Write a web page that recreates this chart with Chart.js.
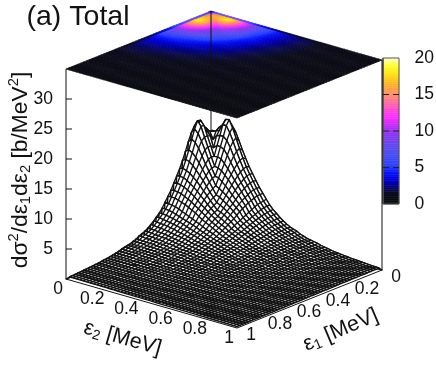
<!DOCTYPE html>
<html><head><meta charset="utf-8">
<style>html,body{margin:0;padding:0;background:#fff}canvas{display:block}</style>
<script src="https://cdn.jsdelivr.net/npm/chart.js@4"></script>
</head><body><canvas id="c" width="436" height="365"></canvas>
<script>
// Cross section (b/MeV^2), row i = eps1 index, col j = eps2 index (j<=i), step 0.02 MeV; the surface is symmetric
const crossSection = [
[0],
[0,11],
[0,13,15.8],
[0,14.5,15.8,16],
[0,15.5,16.6,16.2,15],
[0,16.3,17.2,16.5,15.8,14],
[0,17,18.3,17.6,16,14.5,12.9],
[0,17.3,18.4,17.6,16,14.5,13,11.6],
[0,16.4,17.2,16.6,15.5,14.2,12.8,11.5,10.3],
[0,15.1,15.7,15.3,14.5,13.4,12.2,11.2,10.2,9.1],
[0,13.7,14.1,13.8,13.2,12.4,11.5,10.6,9.7,8.8,7.9],
[0,12.4,12.7,12.5,12,11.4,10.7,10,9.2,8.4,7.7,7],
[0,11.2,11.4,11.2,10.9,10.4,9.9,9.3,8.6,8,7.3,6.7,6.1],
[0,10.2,10.3,10.2,9.9,9.5,9.1,8.6,8,7.5,6.9,6.4,5.9,5.4],
[0,9.2,9.3,9.2,9,8.7,8.3,7.9,7.4,6.9,6.5,6,5.6,5.2,4.8],
[0,8.2,8.3,8.2,8.1,7.8,7.5,7.2,6.8,6.4,6,5.6,5.2,4.8,4.5,4.2],
[0,7.4,7.4,7.4,7.2,7,6.8,6.5,6.2,5.9,5.5,5.1,4.8,4.5,4.2,3.9,3.6],
[0,6.6,6.5,6.4,6.3,6.1,5.8,5.6,5.3,5.1,4.8,4.6,4.3,4,3.8,3.6,3.3,3.1],
[0,5.8,5.8,5.7,5.6,5.4,5.2,5,4.8,4.6,4.4,4.2,3.9,3.7,3.5,3.3,3.1,2.9,2.8],
[0,5.2,5.2,5.1,5,4.9,4.7,4.6,4.4,4.2,4,3.8,3.6,3.5,3.3,3.1,2.9,2.8,2.6,2.5],
[0,4.7,4.7,4.6,4.5,4.4,4.3,4.2,4,3.9,3.7,3.5,3.4,3.2,3,2.9,2.7,2.6,2.5,2.3,2.2],
[0,4.2,4.2,4.1,4.1,4,3.9,3.8,3.6,3.5,3.4,3.2,3.1,2.9,2.8,2.7,2.6,2.4,2.3,2.2,2.1,2],
[0,3.8,3.8,3.7,3.7,3.6,3.5,3.4,3.3,3.2,3.1,3,2.9,2.7,2.6,2.5,2.4,2.3,2.2,2.1,2,1.9,1.8],
[0,3.4,3.4,3.4,3.3,3.3,3.2,3.1,3,2.9,2.8,2.7,2.6,2.5,2.4,2.3,2.2,2.1,2,1.9,1.8,1.8,1.7,1.6],
[0,3.1,3.1,3.1,3,3,2.9,2.9,2.8,2.7,2.6,2.5,2.4,2.3,2.2,2.1,2.1,2,1.9,1.8,1.7,1.7,1.6,1.5,1.5],
[0,2.9,2.9,2.8,2.8,2.7,2.7,2.6,2.5,2.5,2.4,2.3,2.2,2.1,2.1,2,1.9,1.8,1.8,1.7,1.6,1.6,1.5,1.4,1.4,1.3],
[0,2.7,2.7,2.6,2.6,2.5,2.5,2.4,2.4,2.3,2.2,2.1,2.1,2,1.9,1.9,1.8,1.7,1.7,1.6,1.5,1.5,1.4,1.4,1.3,1.3,1.2],
[0,2.4,2.4,2.4,2.3,2.3,2.3,2.2,2.2,2.1,2.1,2,1.9,1.9,1.8,1.8,1.7,1.6,1.6,1.5,1.5,1.4,1.4,1.3,1.3,1.2,1.2,1.1],
[0,2.2,2.2,2.2,2.2,2.1,2.1,2.1,2,2,1.9,1.9,1.8,1.8,1.7,1.7,1.6,1.5,1.5,1.4,1.4,1.3,1.3,1.2,1.2,1.2,1.1,1.1,1],
[0,2,2,2,2,2,1.9,1.9,1.9,1.8,1.8,1.7,1.7,1.6,1.6,1.6,1.5,1.5,1.4,1.4,1.3,1.3,1.2,1.2,1.1,1.1,1.1,1,1,.95],
[0,1.9,1.9,1.9,1.9,1.8,1.8,1.8,1.7,1.7,1.7,1.6,1.6,1.5,1.5,1.5,1.4,1.4,1.3,1.3,1.2,1.2,1.2,1.1,1.1,1.1,1,1,.97,.94,.9],
[0,1.8,1.8,1.8,1.7,1.7,1.7,1.7,1.6,1.6,1.6,1.5,1.5,1.5,1.4,1.4,1.3,1.3,1.3,1.2,1.2,1.1,1.1,1.1,1,1,.98,.95,.92,.89,.86,.83],
[0,1.7,1.6,1.6,1.6,1.6,1.6,1.5,1.5,1.5,1.5,1.4,1.4,1.4,1.3,1.3,1.3,1.2,1.2,1.1,1.1,1.1,1,1,.98,.95,.92,.89,.86,.83,.8,.78,.75],
[0,1.5,1.5,1.5,1.5,1.5,1.5,1.4,1.4,1.4,1.4,1.3,1.3,1.3,1.2,1.2,1.2,1.1,1.1,1.1,1,1,.98,.95,.92,.89,.86,.83,.81,.78,.75,.73,.71,.69],
[0,1.4,1.4,1.4,1.4,1.4,1.4,1.3,1.3,1.3,1.3,1.2,1.2,1.2,1.2,1.1,1.1,1.1,1,1,.98,.95,.92,.89,.87,.84,.81,.79,.77,.74,.72,.7,.68,.66,.64],
[0,1.3,1.3,1.3,1.3,1.3,1.3,1.2,1.2,1.2,1.2,1.2,1.1,1.1,1.1,1.1,1,1,.98,.95,.93,.9,.87,.85,.82,.8,.78,.76,.73,.71,.69,.67,.65,.63,.62,.6],
[0,1.2,1.2,1.2,1.2,1.2,1.2,1.2,1.1,1.1,1.1,1.1,1.1,1,1,1,.98,.95,.92,.9,.88,.85,.83,.81,.78,.76,.74,.72,.7,.68,.66,.64,.62,.61,.59,.57,.56],
[0,1.1,1.1,1.1,1.1,1.1,1.1,1.1,1.1,1.1,1,1,1,1,.98,.95,.92,.9,.88,.85,.83,.81,.79,.77,.75,.73,.71,.69,.67,.65,.63,.61,.6,.58,.57,.55,.54,.52],
[0,1.06,1.06,1.05,1.05,1.04,1.03,1.02,1,.99,.97,.95,.93,.91,.89,.87,.85,.83,.81,.79,.77,.75,.73,.71,.69,.67,.65,.63,.62,.6,.58,.57,.55,.54,.52,.51,.5,.49,.47],
[0,.98,.98,.97,.97,.96,.95,.94,.93,.92,.9,.88,.87,.85,.83,.81,.79,.77,.75,.74,.72,.7,.68,.67,.65,.63,.62,.6,.58,.57,.55,.54,.52,.51,.5,.48,.47,.46,.45,.43],
[0,.9,.9,.9,.89,.89,.88,.87,.86,.85,.84,.82,.81,.79,.78,.76,.74,.73,.71,.69,.68,.66,.64,.63,.61,.6,.58,.57,.55,.54,.52,.51,.5,.48,.47,.46,.45,.44,.42,.41,.4],
[0,.85,.85,.85,.84,.84,.83,.82,.81,.8,.79,.78,.76,.75,.73,.72,.7,.69,.67,.66,.64,.63,.61,.6,.58,.57,.55,.54,.53,.51,.5,.49,.48,.46,.45,.44,.43,.42,.41,.4,.39,.38],
[0,.8,.8,.8,.79,.79,.78,.78,.77,.76,.75,.74,.72,.71,.7,.68,.67,.66,.64,.63,.61,.6,.58,.57,.56,.54,.53,.52,.51,.49,.48,.47,.46,.45,.44,.43,.42,.41,.4,.39,.38,.37,.36],
[0,.76,.76,.76,.75,.75,.74,.74,.73,.72,.71,.7,.69,.68,.66,.65,.64,.63,.61,.6,.59,.57,.56,.55,.54,.52,.51,.5,.49,.48,.47,.46,.45,.44,.43,.42,.41,.4,.39,.38,.37,.36,.35,.34],
[0,.72,.72,.72,.71,.71,.7,.7,.69,.68,.67,.66,.65,.64,.63,.62,.61,.6,.59,.57,.56,.55,.54,.53,.52,.5,.49,.48,.47,.46,.45,.44,.43,.42,.41,.4,.39,.38,.38,.37,.36,.35,.34,.33,.32],
[0,.68,.68,.68,.67,.67,.66,.66,.65,.65,.64,.63,.62,.61,.6,.59,.58,.57,.56,.55,.53,.52,.51,.5,.49,.48,.47,.46,.45,.44,.43,.43,.42,.41,.4,.39,.38,.37,.37,.36,.35,.34,.33,.33,.32,.31],
[0,.64,.64,.64,.63,.63,.63,.62,.62,.61,.6,.6,.59,.58,.57,.56,.55,.54,.53,.52,.51,.5,.49,.48,.47,.46,.45,.44,.43,.42,.42,.41,.4,.39,.38,.38,.37,.36,.35,.35,.34,.33,.33,.32,.31,.31,.3],
[0,.6,.6,.6,.6,.59,.59,.59,.58,.58,.57,.56,.56,.55,.54,.53,.52,.51,.5,.49,.48,.47,.47,.46,.45,.44,.43,.42,.41,.41,.4,.39,.38,.38,.37,.36,.35,.35,.34,.33,.33,.32,.31,.31,.3,.3,.29,.28],
[0,.56,.56,.56,.56,.56,.55,.55,.55,.54,.54,.53,.52,.52,.51,.5,.49,.48,.48,.47,.46,.45,.44,.43,.43,.42,.41,.4,.39,.39,.38,.37,.37,.36,.35,.35,.34,.33,.33,.32,.31,.31,.3,.3,.29,.28,.28,.27,.27],
[0,.53,.53,.53,.53,.53,.52,.52,.52,.51,.51,.5,.5,.49,.48,.48,.47,.46,.45,.45,.44,.43,.42,.41,.41,.4,.39,.39,.38,.37,.36,.36,.35,.34,.34,.33,.33,.32,.31,.31,.3,.3,.29,.29,.28,.28,.27,.26,.26,.25],
[0,.5,.5,.5,.5,.5,.49,.49,.49,.48,.48,.47,.47,.46,.46,.45,.44,.44,.43,.42,.42,.41,.4,.39,.39,.38,.37,.37,.36,.35,.35,.34,.33,.33,.32,.32,.31,.3,.3,.29,.29,.28,.28,.27,.27,.26,.26,.25,.25,.24,.24]
];
const gridStep = 0.02;
const zTicks = [5,10,15,20,25,30];
const colorTicks = [0,5,10,15,20];
const eps1Ticks = [0,0.2,0.4,0.6,0.8,1];
const eps2Ticks = [0,0.2,0.4,0.6,0.8,1];
const paletteValues = [0,1.4,2,2.6,3.4,4.4,5.2,7,9,10,11,12,13,14,15,16,17,18,19,20];
const paletteColors = ['#0c0c10','#0c0c1c','#0a0a50','#000090','#0000d8','#0818ff','#2840ff','#5050f0','#7a40ee','#9a30f2','#d030f8','#ff30ff','#ff50d0','#ff70a0','#ff8c6c','#ffa838','#ffc820','#ffe818','#ffff30','#ffffd0'];

// view set-up
const W=436,H=365,ZERO_PX=279,UNIT=6,CB_ZERO=204,CB_UNIT=7.3,ZTOP=35,MESH=1.35;
const INK='#111',FONT='"Liberation Sans", Arial, sans-serif';
const Z=(i,j)=> i>=j ? crossSection[i][j] : crossSection[j][i];
const N=crossSection.length;
// projected position: x in the px-like x scale, y in units of the z axis
const proj=(e1,e2,z)=>({x:211-145*e1+171*e2, y:z+(58-58*e1-49*e2)/UNIT});
const pt=(i,j)=>proj(i*gridStep,j*gridStep,Z(i,j));

const hex=c=>[1,3,5].map(k=>parseInt(c.substr(k,2),16));
function colorOf(v){
  let k=0; while(k<paletteValues.length-2 && v>paletteValues[k+1]) k++;
  const t=Math.max(0,Math.min(1,(v-paletteValues[k])/(paletteValues[k+1]-paletteValues[k])));
  const a=hex(paletteColors[k]),b=hex(paletteColors[k+1]);
  return `rgb(${a.map((q,m)=>Math.round(q+(b[m]-q)*t)).join(',')})`;
}
const ds=[];
const line=(data,o={})=>ds.push(Object.assign({type:'line',data,yAxisID:'yZ',xAxisID:'x',pointRadius:0,borderColor:INK,borderWidth:1,tension:0,fill:false,clip:false,spanGaps:false},o));

// colour bar
for(let v=0;v<20;v+=0.25){
  const c=colorOf(v+0.125);
  line([{x:383,y:v},{x:399,y:v},{x:399,y:v+.25},{x:383,y:v+.25},{x:383,y:v}],{yAxisID:'yC',fill:'shape',backgroundColor:c,borderColor:c,borderWidth:.6});
}
line([{x:383,y:0},{x:399,y:0},{x:399,y:20},{x:383,y:20},{x:383,y:0}],{yAxisID:'yC',borderColor:'#555',borderWidth:1});
const cbMarks=[];
colorTicks.slice(1,-1).forEach(v=>cbMarks.push({x:383,y:v},{x:399,y:v},{x:0,y:null}));
line(cbMarks,{yAxisID:'yC',borderColor:'#222',borderWidth:1,borderDash:[6,4]});

// box frame
line([proj(1,0,0),proj(1,0,ZTOP)]);
line([proj(0,1,0),proj(0,1,ZTOP)]);
line([proj(0,0,0),proj(0,0,ZTOP)]);
line([proj(1,0,0),proj(1,1,0),proj(0,1,0)]);
const zMarks=[];
zTicks.forEach(v=>zMarks.push({x:66,y:v},{x:72,y:v},{x:0,y:null}));
line(zMarks);

// surface: strips painted from the back corner to the front corner
for(let i=0;i<N-1;i++){
  const poly=[];
  for(let j=0;j<N;j++) poly.push(pt(i,j));
  for(let j=N-1;j>=0;j--) poly.push(pt(i+1,j));
  poly.push(pt(i,0));
  line(poly,{fill:'shape',backgroundColor:'#fff',borderWidth:MESH});
  const cross=[];
  for(let j=1;j<N-1;j++){cross.push(pt(i,j),pt(i+1,j),{x:0,y:null});}
  line(cross,{borderWidth:MESH});
}
ds.forEach((d,k)=>d.order=ds.length-k);

function rich(ctx,segs,x,y,deg,size){
  ctx.save();ctx.translate(x,y);ctx.rotate(deg*Math.PI/180);
  ctx.textAlign='left';ctx.textBaseline='alphabetic';ctx.fillStyle=INK;
  let w=0;
  segs.forEach(s=>{ctx.font=`${size*(s[1]||1)}px ${FONT}`;w+=ctx.measureText(s[0]).width;});
  let cur=-w/2;
  segs.forEach(s=>{ctx.font=`${size*(s[1]||1)}px ${FONT}`;ctx.fillText(s[0],cur,-(s[2]||0)*size);cur+=ctx.measureText(s[0]).width;});
  ctx.restore();
}
const mapPainter={id:'mapPainter',
  beforeDatasetsDraw(chart){
    const {ctx,scales}=chart,X=scales.x,Y=scales.yZ;
    const px=(i,j)=>{const p=proj(i*gridStep,j*gridStep,ZTOP);return [X.getPixelForValue(p.x),Y.getPixelForValue(p.y)];};
    ctx.save();ctx.lineWidth=.7;
    for(let i=0;i<N-1;i++)for(let j=0;j<N-1;j++){
      const c=colorOf((Z(i,j)+Z(i+1,j)+Z(i,j+1)+Z(i+1,j+1))/4);
      ctx.fillStyle=c;ctx.strokeStyle=c;ctx.beginPath();
      [[i,j],[i+1,j],[i+1,j+1],[i,j+1]].forEach((q,k)=>{const p=px(q[0],q[1]);k?ctx.lineTo(p[0],p[1]):ctx.moveTo(p[0],p[1]);});
      ctx.closePath();ctx.fill();ctx.stroke();
    }
    ctx.restore();
  }};
const labels={id:'labels',
  afterDraw(chart){
    const {ctx,scales}=chart,X=scales.x,Y=scales.yZ;
    const S=17.5;
    ctx.save();ctx.fillStyle=INK;ctx.textBaseline='middle';ctx.textAlign='center';ctx.font=`${S}px ${FONT}`;
    eps2Ticks.forEach(t=>{const p=proj(1,t,0);ctx.fillText(String(t),X.getPixelForValue(p.x)-8,Y.getPixelForValue(p.y)+10.5);});
    eps1Ticks.forEach(t=>{const p=proj(t,1,0);ctx.fillText(String(t),X.getPixelForValue(p.x)+14,Y.getPixelForValue(p.y)+7.5);});
    ctx.restore();
    rich(ctx,[['(a) Total']],78,25,0,28.5);
    rich(ctx,[['ε'],['2',.65,-.12],[' [MeV]']],121,344,16,21.5);
    rich(ctx,[['ε'],['1',.65,-.12],[' [MeV]']],343,335.5,-23,21.5);
    rich(ctx,[['d'],['σ'],['2',.65,.38],['/d'],['ε'],['1',.65,-.12],['d'],['ε'],['2',.65,-.12],[' [b/MeV'],['2',.65,.38],[']']],27,170,-90,22.8);
  }};

new Chart(document.getElementById('c'),{
  type:'line',
  data:{datasets:ds},
  options:{
    responsive:false,animation:false,events:[],
    layout:{padding:0},
    plugins:{legend:{display:false},tooltip:{enabled:false},title:{display:false}},
    elements:{line:{borderJoinStyle:'round'}},
    scales:{
      x:{type:'linear',display:false,min:0,max:W,offset:false},
      yZ:{type:'linear',axis:'y',position:{x:53},min:(ZERO_PX-H)/UNIT,max:ZERO_PX/UNIT,
        border:{display:false},grid:{display:false},
        ticks:{autoSkip:false,padding:0,color:INK,font:{family:FONT,size:17.5},callback:v=>String(v)},
        afterBuildTicks:s=>{s.ticks=zTicks.map(v=>({value:v}));},
        afterFit:s=>{s.paddingTop=s.paddingBottom=s.paddingLeft=s.paddingRight=0;}},
      yC:{type:'linear',axis:'y',position:{x:434},min:(CB_ZERO-H)/CB_UNIT,max:CB_ZERO/CB_UNIT,
        border:{display:false},grid:{display:false},
        ticks:{autoSkip:false,padding:0,color:INK,font:{family:FONT,size:17.5},callback:v=>v<10?v+'\u2007':String(v)},
        afterBuildTicks:s=>{s.ticks=colorTicks.map(v=>({value:v}));},
        afterFit:s=>{s.paddingTop=s.paddingBottom=s.paddingLeft=s.paddingRight=0;}}
    }
  },
  plugins:[mapPainter,labels]
});
</script></body></html>
